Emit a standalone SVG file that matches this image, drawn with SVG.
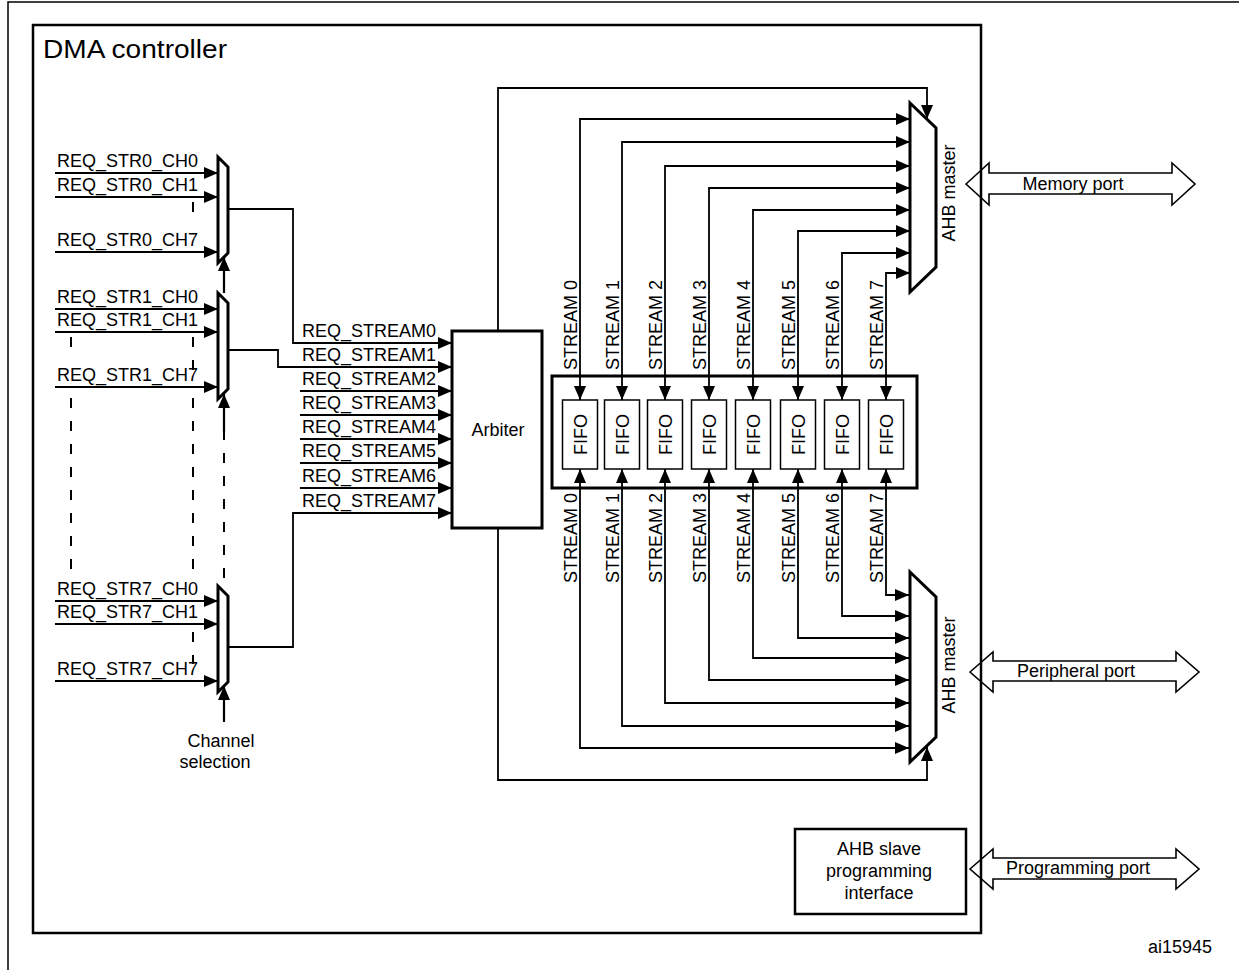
<svg xmlns="http://www.w3.org/2000/svg" width="1239" height="970" viewBox="0 0 1239 970">
<defs>
<style>
text{font-family:"Liberation Sans",Arial,sans-serif;font-size:18px;fill:#000}
.box{fill:#fff;stroke:#000;stroke-width:3}
.thin{fill:#fff;stroke:#000;stroke-width:1.5}
.mux{fill:#fff;stroke:#000;stroke-width:3;stroke-linejoin:miter}
.ln{fill:none;stroke:#000;stroke-width:1.8}
.in{fill:none;stroke:#000;stroke-width:2.2}
.arr{marker-end:url(#ah)}
.arr2{marker-start:url(#ah);marker-end:url(#ah)}
.dash{fill:none;stroke:#000;stroke-width:2;stroke-dasharray:10 13}
.port{fill:none;stroke:#000;stroke-width:1.6;stroke-linejoin:miter}
.mid{text-anchor:middle}
</style>
<marker id="ah" viewBox="0 0 14 12" refX="14" refY="6" markerWidth="14" markerHeight="12" markerUnits="userSpaceOnUse" orient="auto-start-reverse">
<path d="M0,0 L14,6 L0,12 z" fill="#000"/>
</marker>
</defs>
<rect width="1239" height="970" fill="#fff"/>
<path id="frame" d="M8,970 V2 H1239" fill="none" stroke="#000" stroke-width="1.5"/>

<g id="dma-controller">
<rect x="33" y="25" width="948" height="908" fill="none" stroke="#000" stroke-width="2.5"/>
<text x="43" y="58" style="font-size:25px" textLength="184" lengthAdjust="spacingAndGlyphs">DMA controller</text>
</g>

<g id="connectors">
<!-- mux0 inputs -->
<path class="in arr" d="M55,173 H218"/>
<path class="in arr" d="M55,197 H218"/>
<path class="in arr" d="M55,252 H218"/>
<!-- mux1 inputs -->
<path class="in arr" d="M55,309 H218"/>
<path class="in arr" d="M55,332 H218"/>
<path class="in arr" d="M55,387 H218"/>
<!-- mux7 inputs -->
<path class="in arr" d="M55,601 H218"/>
<path class="in arr" d="M55,624 H218"/>
<path class="in arr" d="M55,681 H218"/>
<!-- dashed continuation -->
<path class="dash" d="M193,202 V224"/>
<path class="dash" d="M193,337 V372"/>
<path class="dash" d="M71,337 V357"/>
<path class="dash" d="M71,398 V578"/>
<path class="dash" d="M193,398 V578"/>
<path class="dash" d="M193,632 V664"/>
<path class="dash" d="M224,430 V586"/>
<!-- channel selection chain -->
<path class="in arr" d="M224,293 V257"/>
<path class="in arr" d="M224,432 V394"/>
<path class="in arr" d="M224,722 V686"/>
<!-- mux outputs to arbiter -->
<path class="ln arr" d="M228,209 H293 V343 H452"/>
<path class="ln arr" d="M228,350 H278 V367 H452"/>
<path class="in arr" d="M300,391 H452"/>
<path class="in arr" d="M300,415 H452"/>
<path class="in arr" d="M300,439 H452"/>
<path class="in arr" d="M300,463 H452"/>
<path class="in arr" d="M300,488 H452"/>
<path class="ln arr" d="M228,647 H293 V513 H452"/>
<!-- arbiter to AHB masters -->
<path class="ln arr" d="M498,331 V88 H927 V119"/>
<path class="ln arr" d="M498,528 V780 H927 V747"/>
<!-- streams to memory AHB master -->
<path class="ln arr2" d="M580,400 V119 H910"/>
<path class="ln arr2" d="M622,400 V142 H910"/>
<path class="ln arr2" d="M665,400 V166 H910"/>
<path class="ln arr2" d="M709,400 V188 H910"/>
<path class="ln arr2" d="M753,400 V210 H910"/>
<path class="ln arr2" d="M798,400 V231 H910"/>
<path class="ln arr2" d="M842,400 V253 H910"/>
<path class="ln arr2" d="M886,400 V273 H910"/>
<!-- streams to peripheral AHB master -->
<path class="ln arr2" d="M580,469 V748 H909"/>
<path class="ln arr2" d="M622,469 V726 H909"/>
<path class="ln arr2" d="M665,469 V703 H909"/>
<path class="ln arr2" d="M709,469 V680 H909"/>
<path class="ln arr2" d="M753,469 V658 H909"/>
<path class="ln arr2" d="M798,469 V638 H909"/>
<path class="ln arr2" d="M842,469 V616 H909"/>
<path class="ln arr2" d="M886,469 V595 H909"/>
</g>

<g id="input-labels">
<text x="57" y="167">REQ_STR0_CH0</text>
<text x="57" y="191">REQ_STR0_CH1</text>
<text x="57" y="246">REQ_STR0_CH7</text>
<text x="57" y="303">REQ_STR1_CH0</text>
<text x="57" y="326">REQ_STR1_CH1</text>
<text x="57" y="381">REQ_STR1_CH7</text>
<text x="57" y="595">REQ_STR7_CH0</text>
<text x="57" y="618">REQ_STR7_CH1</text>
<text x="57" y="675">REQ_STR7_CH7</text>
<text x="221" y="747" class="mid">Channel</text>
<text x="215" y="768" class="mid">selection</text>
</g>

<g id="stream-request-labels">
<text x="302" y="337">REQ_STREAM0</text>
<text x="302" y="361">REQ_STREAM1</text>
<text x="302" y="385">REQ_STREAM2</text>
<text x="302" y="409">REQ_STREAM3</text>
<text x="302" y="433">REQ_STREAM4</text>
<text x="302" y="457">REQ_STREAM5</text>
<text x="302" y="482">REQ_STREAM6</text>
<text x="302" y="507">REQ_STREAM7</text>
</g>

<g id="mux0"><path class="mux" d="M218,157 L228,167 V253 L218,263 Z"/></g>
<g id="mux1"><path class="mux" d="M218,293 L228,303 V389 L218,399 Z"/></g>
<g id="mux7"><path class="mux" d="M218,586 L228,596 V682 L218,692 Z"/></g>

<g id="arbiter">
<rect class="box" x="452" y="331" width="90" height="197"/>
<text x="498" y="436" class="mid">Arbiter</text>
</g>

<g id="fifo-block">
<rect x="552" y="376" width="365" height="112" fill="none" stroke="#000" stroke-width="3"/>
<g id="fifo0"><rect class="thin" x="562.5" y="400" width="35" height="69"/><text class="mid" transform="translate(586.5,434.5) rotate(-90)">FIFO</text></g>
<g id="fifo1"><rect class="thin" x="604.5" y="400" width="35" height="69"/><text class="mid" transform="translate(628.5,434.5) rotate(-90)">FIFO</text></g>
<g id="fifo2"><rect class="thin" x="647.5" y="400" width="35" height="69"/><text class="mid" transform="translate(671.5,434.5) rotate(-90)">FIFO</text></g>
<g id="fifo3"><rect class="thin" x="691.5" y="400" width="35" height="69"/><text class="mid" transform="translate(715.5,434.5) rotate(-90)">FIFO</text></g>
<g id="fifo4"><rect class="thin" x="735.5" y="400" width="35" height="69"/><text class="mid" transform="translate(759.5,434.5) rotate(-90)">FIFO</text></g>
<g id="fifo5"><rect class="thin" x="780.5" y="400" width="35" height="69"/><text class="mid" transform="translate(804.5,434.5) rotate(-90)">FIFO</text></g>
<g id="fifo6"><rect class="thin" x="824.5" y="400" width="35" height="69"/><text class="mid" transform="translate(848.5,434.5) rotate(-90)">FIFO</text></g>
<g id="fifo7"><rect class="thin" x="868.5" y="400" width="35" height="69"/><text class="mid" transform="translate(892.5,434.5) rotate(-90)">FIFO</text></g>
</g>

<g id="stream-labels-top">
<text transform="translate(577,370) rotate(-90)">STREAM 0</text>
<text transform="translate(619,370) rotate(-90)">STREAM 1</text>
<text transform="translate(662,370) rotate(-90)">STREAM 2</text>
<text transform="translate(706,370) rotate(-90)">STREAM 3</text>
<text transform="translate(750,370) rotate(-90)">STREAM 4</text>
<text transform="translate(795,370) rotate(-90)">STREAM 5</text>
<text transform="translate(839,370) rotate(-90)">STREAM 6</text>
<text transform="translate(883,370) rotate(-90)">STREAM 7</text>
</g>
<g id="stream-labels-bottom">
<text transform="translate(577,583) rotate(-90)">STREAM 0</text>
<text transform="translate(619,583) rotate(-90)">STREAM 1</text>
<text transform="translate(662,583) rotate(-90)">STREAM 2</text>
<text transform="translate(706,583) rotate(-90)">STREAM 3</text>
<text transform="translate(750,583) rotate(-90)">STREAM 4</text>
<text transform="translate(795,583) rotate(-90)">STREAM 5</text>
<text transform="translate(839,583) rotate(-90)">STREAM 6</text>
<text transform="translate(883,583) rotate(-90)">STREAM 7</text>
</g>

<g id="ahb-master-memory">
<path class="mux" d="M910,103 L936,128 V267 L910,292 Z"/>
<text class="mid" transform="translate(955,193) rotate(-90)">AHB master</text>
</g>
<g id="ahb-master-peripheral">
<path class="mux" d="M910,572 L936,597 V737 L910,762 Z"/>
<text class="mid" transform="translate(955,665) rotate(-90)">AHB master</text>
</g>

<g id="ahb-slave">
<rect x="795" y="829" width="171" height="85" fill="#fff" stroke="#000" stroke-width="2.5"/>
<text x="879" y="855" class="mid">AHB slave</text>
<text x="879" y="877" class="mid">programming</text>
<text x="879" y="899" class="mid">interface</text>
</g>

<g id="memory-port">
<path class="port" d="M966,184 L989,163 V173 H1172 V163 L1195,184 L1172,205 V194 H989 V205 Z"/>
<text x="1073" y="190" class="mid">Memory port</text>
</g>
<g id="peripheral-port">
<path class="port" d="M970,672 L993,652 V661 H1176 V652 L1199,672 L1176,692 V681 H993 V692 Z"/>
<text x="1076" y="677" class="mid">Peripheral port</text>
</g>
<g id="programming-port">
<path class="port" d="M970,869 L993,849 V858 H1176 V849 L1199,869 L1176,889 V879 H993 V889 Z"/>
<text x="1078" y="874" class="mid">Programming port</text>
</g>

<text x="1212" y="953" style="text-anchor:end">ai15945</text>
</svg>
